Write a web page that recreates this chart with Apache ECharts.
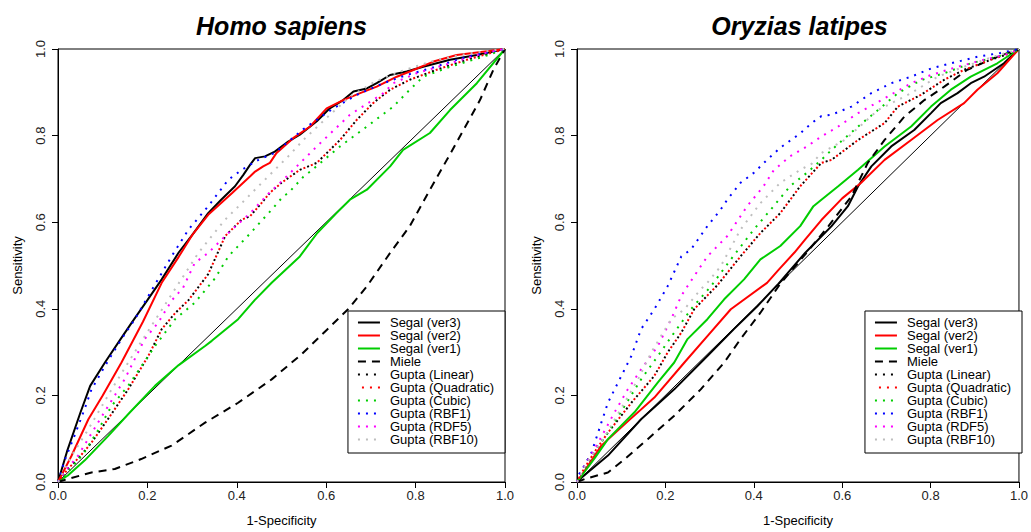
<!DOCTYPE html>
<html>
<head>
<meta charset="utf-8">
<script src="https://cdn.jsdelivr.net/npm/echarts/dist/echarts.min.js"></script>
<style>
html,body{margin:0;padding:0;background:#fff;}
#chart{width:1031px;height:532px;}
</style>
</head>
<body>
<div id="chart"></div>
<script>
// ---------- text ----------
const panelTitles = ['Homo sapiens', 'Oryzias latipes'];
const xAxisName = '1-Specificity';
const yAxisName = 'Sensitivity';
const tickValues = [0, 0.2, 0.4, 0.6, 0.8, 1.0];
const legendNames = ['Segal (ver3)', 'Segal (ver2)', 'Segal (ver1)', 'Miele', 'Gupta (Linear)',
  'Gupta (Quadratic)', 'Gupta (Cubic)', 'Gupta (RBF1)', 'Gupta (RDF5)', 'Gupta (RBF10)'];

// ---------- data: Homo sapiens (1-specificity, sensitivity) ----------
const hsDiagonal = [[0,0],[1,1]];
const hsSegal3 = [[0,0],[0.02,0.07],[0.05,0.16],[0.072,0.222],[0.105,0.276],[0.14,0.33],[0.165,0.368],[0.2,0.42],[0.232,0.468],[0.27,0.53],[0.3,0.57],[0.336,0.621],[0.365,0.652],[0.396,0.683],[0.415,0.71],[0.43,0.733],[0.441,0.748],[0.463,0.752],[0.485,0.763],[0.515,0.786],[0.541,0.802],[0.579,0.833],[0.608,0.863],[0.638,0.882],[0.661,0.902],[0.691,0.909],[0.713,0.921],[0.743,0.94],[0.78,0.948],[0.817,0.959],[0.877,0.975],[0.937,0.986],[1,1]];
const hsSegal2 = [[0,0],[0.03,0.06],[0.068,0.145],[0.1,0.2],[0.142,0.276],[0.19,0.37],[0.232,0.46],[0.27,0.52],[0.3,0.57],[0.336,0.617],[0.389,0.667],[0.43,0.706],[0.441,0.717],[0.459,0.729],[0.474,0.737],[0.489,0.76],[0.526,0.794],[0.564,0.821],[0.601,0.863],[0.638,0.882],[0.676,0.898],[0.713,0.913],[0.758,0.936],[0.787,0.948],[0.84,0.971],[0.892,0.986],[1,1]];
const hsSegal1 = [[0,0],[0.022,0.015],[0.06,0.05],[0.113,0.107],[0.16,0.16],[0.217,0.222],[0.27,0.27],[0.329,0.314],[0.344,0.326],[0.403,0.376],[0.44,0.42],[0.478,0.46],[0.541,0.521],[0.58,0.575],[0.623,0.621],[0.653,0.652],[0.691,0.675],[0.743,0.729],[0.772,0.767],[0.832,0.806],[0.877,0.859],[0.937,0.921],[1,1]];
const hsMiele = [[0,0],[0.022,0.007],[0.075,0.022],[0.127,0.03],[0.186,0.053],[0.254,0.084],[0.329,0.137],[0.403,0.183],[0.478,0.237],[0.545,0.295],[0.6,0.35],[0.65,0.4],[0.691,0.452],[0.743,0.529],[0.787,0.591],[0.832,0.675],[0.87,0.744],[0.907,0.813],[0.944,0.882],[0.974,0.952],[1,1]];
const hsLinear = [[0,0],[0.022,0.03],[0.05,0.06],[0.075,0.091],[0.115,0.15],[0.157,0.214],[0.202,0.291],[0.232,0.353],[0.262,0.39],[0.292,0.42],[0.336,0.48],[0.374,0.568],[0.411,0.606],[0.43,0.614],[0.456,0.645],[0.474,0.668],[0.5,0.691],[0.541,0.721],[0.579,0.737],[0.631,0.79],[0.668,0.836],[0.705,0.875],[0.743,0.906],[0.787,0.929],[0.847,0.952],[0.914,0.975],[1,1]];
const hsQuadratic = [[0,0],[0.022,0.03],[0.05,0.06],[0.075,0.091],[0.115,0.15],[0.157,0.214],[0.202,0.291],[0.232,0.353],[0.262,0.39],[0.292,0.42],[0.336,0.48],[0.374,0.568],[0.411,0.606],[0.43,0.614],[0.456,0.645],[0.474,0.668],[0.5,0.691],[0.541,0.721],[0.579,0.737],[0.631,0.79],[0.668,0.836],[0.705,0.875],[0.743,0.906],[0.787,0.929],[0.847,0.952],[0.914,0.975],[1,1]];
const hsCubic = [[0,0],[0.022,0.022],[0.06,0.07],[0.09,0.12],[0.12,0.176],[0.157,0.222],[0.217,0.314],[0.262,0.376],[0.306,0.414],[0.351,0.47],[0.381,0.521],[0.428,0.572],[0.478,0.629],[0.504,0.66],[0.515,0.667],[0.549,0.705],[0.564,0.717],[0.631,0.775],[0.691,0.821],[0.75,0.867],[0.787,0.906],[0.817,0.936],[0.877,0.959],[0.951,0.982],[1,1]];
const hsRBF1 = [[0,0],[0.015,0.05],[0.037,0.107],[0.06,0.17],[0.075,0.214],[0.105,0.268],[0.142,0.33],[0.172,0.376],[0.213,0.449],[0.254,0.521],[0.292,0.583],[0.336,0.637],[0.381,0.698],[0.411,0.721],[0.45,0.745],[0.485,0.76],[0.549,0.815],[0.616,0.863],[0.67,0.895],[0.728,0.921],[0.78,0.94],[0.832,0.955],[0.914,0.982],[1,1]];
const hsRBF5 = [[0,0],[0.02,0.03],[0.045,0.061],[0.09,0.138],[0.149,0.237],[0.194,0.33],[0.224,0.368],[0.255,0.42],[0.28,0.449],[0.306,0.506],[0.336,0.529],[0.381,0.575],[0.43,0.621],[0.47,0.665],[0.504,0.698],[0.54,0.735],[0.579,0.775],[0.653,0.848],[0.728,0.898],[0.75,0.921],[0.802,0.944],[0.877,0.967],[0.951,0.99],[1,1]];
const hsRBF10 = [[0,0],[0.03,0.06],[0.068,0.122],[0.12,0.214],[0.18,0.314],[0.228,0.391],[0.264,0.449],[0.314,0.529],[0.344,0.568],[0.374,0.606],[0.411,0.644],[0.456,0.691],[0.515,0.752],[0.549,0.79],[0.6,0.84],[0.653,0.89],[0.71,0.925],[0.765,0.948],[0.847,0.975],[0.92,0.99],[1,1]];

// ---------- data: Oryzias latipes ----------
const olDiagonal = [[0,0],[1,1]];
const olSegal3 = [[0,0],[0.01,0.01],[0.07,0.061],[0.145,0.145],[0.22,0.214],[0.295,0.291],[0.355,0.353],[0.408,0.406],[0.456,0.458],[0.516,0.529],[0.576,0.591],[0.613,0.637],[0.636,0.683],[0.666,0.729],[0.711,0.775],[0.763,0.813],[0.801,0.852],[0.823,0.875],[0.861,0.898],[0.891,0.921],[0.921,0.936],[0.966,0.967],[1,1]];
const olSegal2 = [[0,0],[0.02,0.03],[0.055,0.084],[0.115,0.14],[0.175,0.195],[0.243,0.276],[0.295,0.337],[0.348,0.399],[0.43,0.46],[0.456,0.49],[0.492,0.53],[0.516,0.56],[0.553,0.605],[0.6,0.655],[0.643,0.691],[0.696,0.744],[0.756,0.79],[0.816,0.836],[0.876,0.875],[0.906,0.906],[0.951,0.944],[1,1]];
const olSegal1 = [[0,0],[0.011,0.015],[0.04,0.055],[0.07,0.099],[0.13,0.161],[0.183,0.23],[0.22,0.276],[0.25,0.33],[0.295,0.376],[0.333,0.422],[0.378,0.468],[0.415,0.514],[0.46,0.545],[0.505,0.591],[0.535,0.637],[0.553,0.652],[0.591,0.683],[0.636,0.721],[0.696,0.775],[0.756,0.821],[0.801,0.867],[0.846,0.906],[0.891,0.936],[0.951,0.967],[1,1]];
const olMiele = [[0,0],[0.018,0.007],[0.07,0.022],[0.108,0.053],[0.16,0.099],[0.22,0.153],[0.28,0.214],[0.333,0.276],[0.37,0.33],[0.415,0.391],[0.46,0.458],[0.52,0.53],[0.569,0.591],[0.621,0.66],[0.658,0.737],[0.696,0.79],[0.741,0.844],[0.786,0.882],[0.831,0.913],[0.883,0.952],[0.943,0.979],[1,1]];
const olLinear = [[0,0],[0.011,0.022],[0.04,0.07],[0.07,0.114],[0.123,0.183],[0.175,0.245],[0.205,0.299],[0.236,0.345],[0.265,0.399],[0.318,0.455],[0.37,0.521],[0.415,0.575],[0.46,0.621],[0.505,0.683],[0.553,0.737],[0.576,0.744],[0.636,0.79],[0.696,0.829],[0.726,0.867],[0.778,0.894],[0.831,0.929],[0.876,0.952],[0.936,0.975],[0.98,0.99],[1,1]];
const olQuadratic = [[0,0],[0.011,0.022],[0.04,0.07],[0.07,0.114],[0.123,0.183],[0.175,0.245],[0.205,0.299],[0.236,0.345],[0.265,0.399],[0.318,0.455],[0.37,0.521],[0.415,0.575],[0.46,0.621],[0.505,0.683],[0.553,0.737],[0.576,0.744],[0.636,0.79],[0.696,0.829],[0.726,0.867],[0.778,0.894],[0.831,0.929],[0.876,0.952],[0.936,0.975],[0.98,0.99],[1,1]];
const olCubic = [[0,0],[0.01,0.02],[0.025,0.053],[0.07,0.114],[0.108,0.176],[0.145,0.237],[0.183,0.291],[0.22,0.345],[0.258,0.399],[0.303,0.452],[0.348,0.514],[0.4,0.583],[0.445,0.637],[0.482,0.683],[0.52,0.714],[0.553,0.744],[0.576,0.767],[0.636,0.821],[0.681,0.859],[0.726,0.898],[0.778,0.928],[0.831,0.944],[0.891,0.967],[0.951,0.982],[1,1]];
const olRBF1 = [[0,0],[0.003,0.015],[0.018,0.04],[0.033,0.068],[0.055,0.137],[0.07,0.183],[0.093,0.23],[0.123,0.291],[0.145,0.353],[0.175,0.399],[0.205,0.452],[0.236,0.521],[0.258,0.537],[0.295,0.591],[0.325,0.629],[0.34,0.652],[0.37,0.691],[0.4,0.714],[0.43,0.744],[0.46,0.772],[0.505,0.805],[0.531,0.829],[0.553,0.845],[0.576,0.848],[0.621,0.867],[0.666,0.898],[0.711,0.921],[0.756,0.936],[0.801,0.955],[0.846,0.967],[0.906,0.982],[0.958,0.991],[1,1]];
const olRBF5 = [[0,0],[0.018,0.038],[0.048,0.091],[0.085,0.161],[0.115,0.214],[0.145,0.26],[0.183,0.314],[0.213,0.376],[0.236,0.43],[0.255,0.46],[0.295,0.521],[0.34,0.568],[0.385,0.637],[0.422,0.683],[0.445,0.72],[0.482,0.752],[0.52,0.775],[0.553,0.798],[0.591,0.821],[0.636,0.852],[0.696,0.886],[0.756,0.921],[0.801,0.94],[0.861,0.959],[0.921,0.975],[0.98,0.99],[1,1]];
const olRBF10 = [[0,0],[0.02,0.04],[0.06,0.1],[0.1,0.17],[0.138,0.237],[0.168,0.299],[0.213,0.376],[0.243,0.399],[0.28,0.445],[0.295,0.46],[0.325,0.498],[0.37,0.583],[0.415,0.644],[0.46,0.691],[0.505,0.721],[0.531,0.735],[0.553,0.76],[0.606,0.79],[0.681,0.859],[0.756,0.898],[0.816,0.936],[0.876,0.959],[0.942,0.982],[1,1]];

const panelData = [
  [hsSegal3, hsSegal2, hsSegal1, hsMiele, hsLinear, hsQuadratic, hsCubic, hsRBF1, hsRBF5, hsRBF10],
  [olSegal3, olSegal2, olSegal1, olMiele, olLinear, olQuadratic, olCubic, olRBF1, olRBF5, olRBF10]
];
const panelDiagonals = [hsDiagonal, olDiagonal];

// ---------- styles ----------
const DOT = [2, 6];
const styles = [
  {color:'#000000', type:'solid', width:2},
  {color:'#ff0000', type:'solid', width:2},
  {color:'#00cd00', type:'solid', width:2},
  {color:'#000000', type:[8,6], width:2},
  {color:'#000000', type:DOT, width:2, offset:0},
  {color:'#ff0000', type:DOT, width:2, offset:4},
  {color:'#00cd00', type:DOT, width:2, offset:0},
  {color:'#0000ff', type:DOT, width:2, offset:0},
  {color:'#ff00ff', type:DOT, width:2, offset:0},
  {color:'#bebebe', type:DOT, width:2, offset:0}
];
const grids = [
  {left:58, top:49, width:447, height:434},
  {left:577, top:49, width:445, height:434}
];
const FONT = 'Liberation Sans, Arial, Helvetica, sans-serif';

const chart = echarts.init(document.getElementById('chart'), null, {renderer:'svg'});

const option = {
  animation:false,
  backgroundColor:'#ffffff',
  textStyle:{fontFamily:FONT},
  title: grids.map((g,i)=>({
    text: panelTitles[i],
    left: g.left + g.width/2,
    top: 13,
    padding: 0,
    textAlign: 'center',
    textStyle:{fontFamily:FONT, fontSize:25, fontWeight:'bold', fontStyle:'italic', color:'#000'}
  })),
  grid: grids.map(g=>({left:g.left, top:g.top, width:g.width, height:g.height, show:true, borderColor:'#000', borderWidth:1, backgroundColor:'transparent'})),
  xAxis: grids.map((g,i)=>({
    gridIndex:i, type:'value', min:0, max:1, interval:0.2,
    name: xAxisName, nameLocation:'middle', nameGap:32,
    nameTextStyle:{fontFamily:FONT, fontSize:13, color:'#000'},
    axisLine:{show:true, lineStyle:{color:'#000', width:1}},
    axisTick:{show:true, length:6, inside:false, lineStyle:{color:'#000'}},
    axisLabel:{fontFamily:FONT, fontSize:13, color:'#222', margin:7, formatter:v=>v.toFixed(1), showMinLabel:true, showMaxLabel:true, hideOverlap:false},
    splitLine:{show:false}
  })),
  yAxis: grids.map((g,i)=>({
    gridIndex:i, type:'value', min:0, max:1, interval:0.2,
    name: yAxisName, nameLocation:'middle', nameGap:34, nameRotate:90,
    nameTextStyle:{fontFamily:FONT, fontSize:13, color:'#000'},
    axisLine:{show:true, lineStyle:{color:'#000', width:1}},
    axisTick:{show:true, length:6, inside:false, lineStyle:{color:'#000'}},
    axisLabel:{fontFamily:FONT, fontSize:13, color:'#222', margin:11, rotate:90, formatter:v=>v.toFixed(1), showMinLabel:true, showMaxLabel:true, hideOverlap:false},
    splitLine:{show:false}
  })),
  legend: grids.map((g,i)=>({
    orient:'vertical',
    right: 1031 - (g.left + g.width),
    top: 311,
    data: legendNames,
    itemWidth:22, itemHeight:14, itemGap:0,
    padding:[5,11,7,9],
    borderColor:'#000', borderWidth:1, backgroundColor:'#fff',
    selectedMode:false,
    itemStyle:{opacity:0},
    textStyle:{fontFamily:FONT, fontSize:13, color:'#000', padding:[0,0,0,5]}
  })),
  series: []
};

panelDiagonals.forEach((d,i)=>{
  option.series.push({
    name:'diagonal', type:'line', xAxisIndex:i, yAxisIndex:i, data:d,
    symbol:'none', silent:true, lineStyle:{color:'#000', width:1}, z:1
  });
});
panelData.forEach((list,i)=>{
  list.forEach((d,k)=>{
    const s = styles[k];
    option.series.push({
      name: legendNames[k], type:'line', xAxisIndex:i, yAxisIndex:i, data:d,
      symbol:'none', showSymbol:false, silent:true, z:2,
      lineStyle:{color:s.color, width:s.width, type:s.type, dashOffset:s.offset||0, cap:'butt'},
      itemStyle:{color:s.color}
    });
  });
});

chart.setOption(option);
</script>
</body>
</html>
